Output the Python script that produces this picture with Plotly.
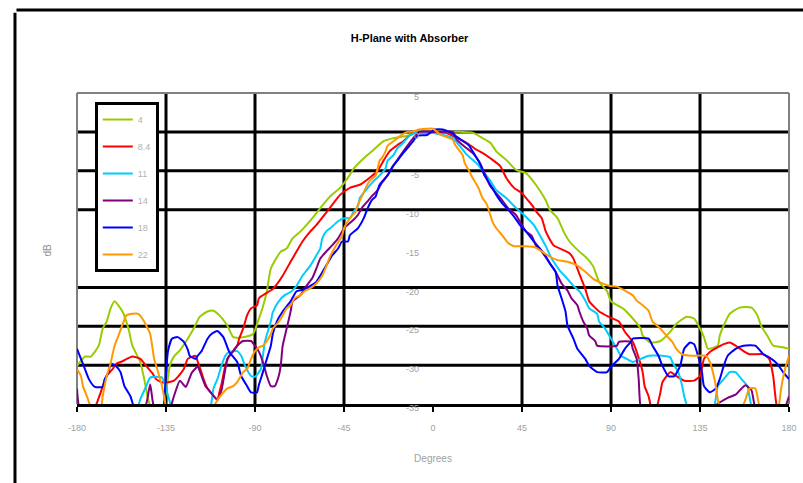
import plotly.graph_objects as go

# ---------------- data ----------------
x_tick_vals = [-180, -135, -90, -45, 0, 45, 90, 135, 180]
x_tick_text = ["-180", "-135", "-90", "-45", "0", "45", "90", "135", "180"]
y_tick_vals = [5, 0, -5, -10, -15, -20, -25, -30, -35]
y_tick_text = ["5", "0", "-5", "-10", "-15", "-20", "-25", "-30", "-35"]
x_grid = [-135, -90, -45, 45, 90, 135]
y_grid = [0, -5, -10, -20, -25, -30]

series_names = ["4", "8.4", "11", "14", "18", "22"]

ang_4 = [-180, -176, -173, -169, -167, -165, -163, -161, -157, -154, -152, -148, -146, -144, -141, -137,
         -133, -131, -128, -124, -121, -118, -114, -111, -108, -104, -101, -96, -91, -88, -86, -84, -82,
         -77, -74, -71, -67, -64, -61, -57, -52, -47, -43, -40, -35, -30, -25, -20, -13, -8, 0, 5, 10, 15,
         20, 25, 29, 32, 37, 42, 47, 52, 57, 59, 63, 66, 69, 74, 78, 81, 84, 88, 90, 96, 101, 105, 106,
         110, 115, 120, 123, 128, 132, 135, 137, 139, 144, 145, 147, 150, 155, 161, 164, 166, 169, 172,
         177, 180]
db_4 = [-30.1, -28.9, -28.9, -27.5, -25.3, -24.4, -22.7, -21.8, -23.1, -25.3, -27.5, -29.6, -31.8, -34.4,
        -36.5, -36.0, -30.0, -28.9, -28.1, -26.6, -25.3, -23.8, -23.1, -23.0, -23.6, -24.9, -26.4, -26.4,
        -26.0, -24.0, -22.5, -20.5, -17.6, -15.4, -15.0, -13.7, -12.8, -12.0, -11.1, -9.8, -8.3, -7.2,
        -5.9, -4.7, -3.4, -2.3, -1.2, -0.8, -0.5, -0.1, 0.0, 0.0, 0.0, 0.0, -0.1, -0.8, -1.4, -2.5, -3.6,
        -4.9, -5.3, -6.8, -8.8, -10.0, -11.1, -12.8, -14.1, -15.4, -16.3, -17.3, -19.3, -20.5, -21.8,
        -22.7, -24.0, -25.3, -26.2, -27.1, -26.9, -25.7, -24.7, -23.8, -24.0, -25.3, -26.4, -27.9, -27.5,
        -26.2, -24.9, -23.4, -22.6, -22.6, -23.6, -25.0, -26.2, -27.5, -27.7, -27.9]

ang_84 = [-180, -172, -168, -166, -165, -162, -160, -157, -152, -148, -145, -142, -140, -137, -134, -131,
          -129, -126, -124, -120, -119, -117, -116, -114, -109, -108, -107, -105, -103, -99, -98, -96, -94,
          -92, -89, -88, -84, -81, -79, -76, -72, -69, -66, -62, -59, -55, -51, -47, -42, -37, -32, -28,
          -25, -22, -18, -15, -12, -8, 0, 5, 9, 14, 17, 22, 25, 29, 34, 37, 41, 45, 47, 50, 52, 55, 57, 61,
          66, 69, 71, 73, 75, 77, 79, 84, 89, 94, 97, 101, 103, 106, 107, 109, 111, 113, 115, 116, 120,
          123, 127, 132, 135, 137, 140, 144, 147, 150, 153, 157, 160, 167, 170, 172, 174, 180]
db_84 = [-37.0, -36.0, -33.5, -32.0, -31.4, -30.5, -29.8, -29.5, -28.9, -29.2, -30.1, -31.0, -31.8, -32.2,
         -32.2, -32.0, -31.5, -30.5, -29.2, -28.8, -29.5, -31.0, -31.8, -33.0, -34.4, -33.5, -32.5, -30.1,
         -28.8, -27.5, -26.6, -25.3, -23.6, -22.7, -22.3, -21.4, -20.7, -20.2, -19.6, -18.5, -16.7, -15.4,
         -14.1, -12.8, -12.0, -10.7, -9.4, -8.1, -7.2, -6.8, -5.9, -5.0, -3.7, -2.5, -1.7, -1.2, -0.5, 0.0,
         0.0, 0.0, -0.4, -1.0, -1.4, -2.3, -2.7, -3.4, -4.4, -5.9, -7.2, -7.9, -8.5, -9.4, -10.2, -11.1,
         -12.8, -14.6, -15.2, -15.6, -16.3, -17.6, -18.9, -20.2, -21.8, -23.1, -23.8, -24.4, -25.7, -27.0,
         -28.3, -30.9, -32.7, -34.0, -36.0, -35.5, -33.5, -32.2, -30.9, -31.4, -32.0, -32.0, -31.4, -29.2,
         -28.3, -27.7, -27.3, -27.1, -27.5, -28.2, -28.6, -28.6, -29.2, -31.4, -35.5, -38.0]

ang_11 = [-180, -178, -155, -150, -148, -145, -143, -140, -137, -135, -132, -128, -114, -111, -109, -107,
          -105, -103, -99, -97, -95, -92, -90, -87, -86, -85, -82, -81, -78, -75, -72, -69, -66, -62, -59,
          -57, -56, -54, -52, -48, -45, -42, -40, -38, -37, -33, -30, -27, -24, -23, -20, -18, -15, -12,
          -8, -3, 5, 10, 17, 23, 26, 29, 32, 37, 42, 46, 51, 54, 57, 60, 64, 68, 71, 74, 77, 79, 83, 84,
          87, 90, 93, 95, 98, 101, 105, 109, 116, 120, 121, 124, 126, 127, 129, 135, 142, 144, 147, 150,
          153, 156, 159, 160, 162, 180]
db_11 = [-34.6, -37.0, -37.0, -36.0, -34.4, -32.7, -31.6, -31.5, -31.6, -33.0, -35.5, -37.0, -37.0, -33.0,
         -31.8, -30.1, -28.8, -28.3, -28.2, -28.8, -30.1, -31.4, -31.5, -30.5, -28.8, -27.0, -24.4, -23.2,
         -21.8, -21.0, -20.6, -19.8, -18.5, -17.2, -15.9, -15.0, -13.7, -12.8, -12.4, -11.5, -11.1, -11.1,
         -10.2, -9.6, -8.5, -7.2, -6.3, -5.6, -4.7, -3.7, -3.0, -2.1, -1.4, -0.5, 0.0, 0.0, -0.4, -0.8,
         -2.9, -4.3, -5.3, -6.3, -7.5, -8.5, -9.8, -10.7, -12.0, -13.3, -14.7, -16.3, -17.8, -18.9, -19.8,
         -20.5, -21.7, -22.7, -23.4, -24.4, -25.3, -26.6, -27.9, -28.8, -29.2, -29.6, -29.2, -28.8, -28.8,
         -29.0, -29.6, -30.9, -32.7, -34.0, -35.5, -37.0, -35.5, -32.7, -31.8, -30.9, -30.9, -31.8, -32.7,
         -34.0, -36.0, -38.0]

ang_14 = [-180, -178, -150, -145, -143, -141, -135, -131, -128, -125, -122, -119, -117, -115, -113, -109,
          -107, -105, -104, -101, -99, -96, -92, -90, -88, -86, -84, -82, -80, -78, -77, -76, -74, -72, -71,
          -67, -64, -61, -59, -57, -54, -51, -48, -45, -41, -38, -36, -33, -31, -28, -26, -23, -21, -18,
          -15, -13, -10, -7, 0, 5, 10, 12, 15, 17, 20, 23, 25, 29, 32, 35, 38, 42, 45, 47, 50, 52, 55, 58,
          62, 65, 68, 70, 73, 74, 76, 78, 79, 82, 83, 93, 94, 100, 101, 103, 104, 105, 110, 140, 143, 149,
          153, 156, 158, 161, 163, 170, 177, 180]
db_14 = [-33.0, -36.0, -37.0, -35.0, -32.5, -35.5, -37.0, -34.0, -32.0, -32.8, -31.0, -30.2, -31.4, -32.7,
         -33.3, -34.5, -33.3, -30.5, -29.2, -28.2, -27.5, -26.9, -26.9, -27.5, -28.3, -29.6, -31.4, -32.7,
         -32.7, -31.4, -30.1, -27.5, -25.3, -23.1, -21.8, -21.0, -19.8, -18.8, -17.6, -16.3, -15.4, -14.6,
         -13.7, -12.4, -11.5, -10.7, -9.8, -8.9, -8.3, -7.5, -6.6, -5.6, -4.7, -3.6, -2.5, -1.8, -0.8, 0.0,
         0.0, 0.0, 0.0, -1.0, -1.7, -2.1, -2.7, -3.7, -4.7, -7.0, -7.9, -8.8, -9.8, -10.7, -12.0, -12.8,
         -13.4, -14.6, -15.4, -16.5, -18.0, -19.5, -20.4, -21.4, -22.3, -23.1, -24.4, -25.3, -26.2, -26.9,
         -27.5, -27.5, -27.0, -27.0, -27.9, -29.2, -31.8, -35.5, -38.0, -37.0, -35.2, -34.2, -33.8, -33.0,
         -32.6, -33.2, -35.5, -37.0, -36.0, -34.0]

ang_18 = [-180, -178, -176, -174, -171, -167, -166, -164, -163, -160, -158, -156, -153, -151, -145, -138,
          -136, -135, -134, -132, -129, -126, -124, -123, -120, -119, -117, -114, -112, -109, -106, -105,
          -103, -99, -97, -94, -92, -89, -88, -86, -84, -82, -81, -79, -76, -72, -69, -66, -62, -59, -57,
          -54, -51, -48, -46, -43, -42, -38, -35, -33, -31, -29, -27, -23, -20, -18, -15, -13, -10, -8, -3,
          1, 5, 9, 14, 18, 21, 24, 26, 30, 32, 35, 38, 41, 44, 47, 51, 54, 57, 59, 62, 63, 65, 67, 68, 71,
          73, 77, 79, 83, 88, 90, 94, 97, 100, 101, 109, 111, 114, 116, 119, 122, 125, 127, 130, 132, 134,
          136, 137, 140, 143, 145, 147, 149, 153, 157, 163, 167, 170, 174, 177, 180]
db_18 = [-27.9, -29.2, -30.5, -31.8, -32.8, -32.8, -31.8, -30.9, -29.8, -30.2, -30.9, -32.7, -34.0, -35.5,
         -37.0, -36.5, -35.0, -31.0, -28.2, -26.6, -26.4, -27.0, -28.0, -28.8, -29.2, -28.8, -28.2, -26.6,
         -26.0, -25.6, -26.4, -27.0, -28.3, -29.6, -31.4, -32.7, -33.5, -33.5, -32.5, -30.9, -29.2, -27.5,
         -26.0, -24.4, -23.1, -21.8, -20.5, -20.3, -19.8, -19.3, -18.5, -17.2, -15.9, -15.0, -14.1, -14.1,
         -13.3, -12.4, -11.1, -9.8, -8.8, -8.3, -6.8, -5.6, -4.3, -3.7, -2.7, -2.1, -1.2, -0.5, -0.4, 0.3,
         0.3, -0.1, -1.0, -1.7, -2.9, -4.2, -5.6, -7.2, -8.1, -9.2, -10.0, -10.9, -12.0, -12.8, -14.1,
         -15.0, -16.0, -16.9, -18.0, -19.8, -21.4, -23.1, -24.9, -26.6, -27.9, -29.2, -30.1, -30.9, -30.9,
         -30.2, -29.2, -27.9, -27.0, -26.6, -26.6, -27.5, -28.8, -30.1, -31.4, -31.4, -30.1, -27.9, -27.1,
         -27.3, -28.8, -30.9, -32.7, -33.5, -33.0, -31.8, -30.1, -28.8, -27.9, -27.5, -27.5, -28.6, -29.0,
         -29.8, -30.9, -31.8]

ang_22 = [-180, -178, -177, -175, -173, -168, -167, -165, -163, -162, -161, -159, -157, -155, -152, -149,
          -147, -145, -143, -142, -141, -139, -138, -137, -136, -133, -113, -111, -109, -106, -104, -101,
          -99, -96, -94, -92, -90, -88, -86, -84, -82, -81, -78, -76, -74, -72, -70, -67, -65, -62, -59,
          -56, -54, -52, -49, -46, -45, -42, -39, -38, -36, -34, -32, -29, -28, -27, -26, -24, -23, -20,
          -18, -16, -13, -11, -7, -3, 0, 4, 10, 11, 13, 15, 16, 18, 20, 23, 25, 27, 29, 30, 32, 35, 38, 41,
          47, 51, 54, 58, 63, 68, 73, 77, 81, 84, 89, 93, 97, 101, 103, 106, 109, 111, 115, 118, 121, 123,
          126, 131, 138, 140, 142, 143, 144, 146, 155, 158, 160, 163, 164, 166, 174, 176, 178, 180]
db_22 = [-30.5, -31.4, -32.7, -34.0, -35.3, -35.5, -34.0, -31.4, -29.8, -28.6, -27.5, -26.2, -24.8, -23.6,
         -23.4, -23.4, -24.0, -24.9, -26.0, -27.5, -29.2, -30.9, -31.8, -32.7, -34.0, -37.0, -37.0, -35.5,
         -34.5, -33.5, -33.0, -32.7, -32.2, -30.9, -30.5, -29.2, -28.2, -27.7, -27.5, -26.9, -26.0, -25.3,
         -24.4, -23.6, -22.7, -22.3, -21.4, -21.0, -20.5, -20.1, -19.5, -18.5, -17.3, -16.0, -14.6, -13.4,
         -12.4, -11.1, -10.2, -9.4, -8.3, -7.2, -6.3, -5.6, -4.7, -3.7, -3.4, -2.5, -1.8, -1.2, -0.8, -0.4,
         0.0, 0.0, 0.3, 0.4, 0.4, -0.4, -1.0, -1.6, -2.3, -3.0, -4.0, -4.9, -5.9, -7.2, -8.5, -9.2, -10.7,
         -11.5, -12.4, -13.3, -14.3, -14.7, -14.7, -14.8, -15.2, -15.9, -16.5, -16.7, -17.2, -18.0, -18.9,
         -19.3, -19.8, -19.9, -20.4, -21.0, -21.7, -22.3, -23.0, -24.4, -25.3, -26.2, -27.0, -27.9, -28.6,
         -28.8, -28.8, -29.6, -31.4, -32.7, -34.4, -36.0, -36.0, -34.4, -33.0, -33.0, -34.0, -36.0, -36.0,
         -33.0, -30.5, -28.8]

colors = ["#99cc00", "#ff0000", "#00ccff", "#800080", "#0000ff", "#ff9900"]
angles = [ang_4, ang_84, ang_11, ang_14, ang_18, ang_22]
values = [db_4, db_84, db_11, db_14, db_18, db_22]

# ---------------- figure ----------------
fig = go.Figure()
for name, ang, db, col in zip(series_names, angles, values, colors):
    assert len(ang) == len(db), name
    fig.add_trace(go.Scatter(
        x=ang, y=db, mode="lines", name=name, legendgroup=name,
        line=dict(color=col, width=2, shape="spline", smoothing=0.5),
        hoverinfo="skip",
    ))

shapes = []
for v in x_grid:
    shapes.append(dict(type="line", xref="x", yref="paper", x0=v, x1=v, y0=0, y1=1,
                       line=dict(color="black", width=3), layer="below"))
for v in y_grid:
    shapes.append(dict(type="line", xref="paper", yref="y", x0=0, x1=1, y0=v, y1=v,
                       line=dict(color="black", width=3), layer="below"))
# grey plot-area frame (left, top, right)
for (x0, y0, x1, y1) in [(0, 0, 0, 1), (0, 1, 1, 1), (1, 0, 1, 1)]:
    shapes.append(dict(type="line", xref="paper", yref="paper", x0=x0, y0=y0, x1=x1, y1=y1,
                       line=dict(color="#808080", width=2), layer="below"))
# outer chart frame (left and top edges visible)
shapes.append(dict(type="line", xref="paper", yref="paper", x0=-0.0871, x1=-0.0871, y0=-0.3, y1=1.258,
                   line=dict(color="black", width=3)))
shapes.append(dict(type="line", xref="paper", yref="paper", x0=-0.085, x1=1.05, y0=1.2669, y1=1.2669,
                   line=dict(color="black", width=3)))

fig.update_layout(
    width=803, height=483,
    margin=dict(l=77, r=14, t=93, b=79, autoexpand=False),
    paper_bgcolor="white", plot_bgcolor="white",
    font=dict(family="Liberation Sans, Arial, sans-serif", color="#a0a0a0", size=9),
    title=dict(text="<b>H-Plane with Absorber</b>", x=0.51, xanchor="center",
               y=1 - 38 / 483, yanchor="middle", font=dict(size=11, color="black")),
    showlegend=True,
    legend=dict(x=0.025, y=0.971, xanchor="left", yanchor="top", bgcolor="white",
                bordercolor="black", borderwidth=3, tracegroupgap=8,
                font=dict(size=9, color="#b0b0b0")),
    xaxis=dict(range=[-180, 180], tickmode="array", tickvals=x_tick_vals, ticktext=x_tick_text,
               automargin=False,
               showgrid=False, zeroline=False, showline=True, linecolor="black", linewidth=3,
               ticks="outside", ticklen=5, tickwidth=2, tickcolor="black",
               ticklabelstandoff=8, tickfont=dict(size=9, color="#a0a0a0"),
               title=dict(text="Degrees", font=dict(size=10, color="#a0a0a0"), standoff=24)),
    yaxis=dict(range=[-35, 5], tickmode="array", tickvals=y_tick_vals, ticktext=y_tick_text,
               anchor="free", position=0.5, side="left", automargin=False,
               showgrid=False, zeroline=False, showline=False, ticks="",
               ticklabelstandoff=14, ticklabelshift=4, tickfont=dict(size=9, color="#a0a0a0")),
    shapes=shapes,
    annotations=[dict(text="dB", xref="paper", yref="paper", x=-0.052, y=0.495, showarrow=False,
                      textangle=-90, font=dict(size=10, color="#909090"))],
)

fig.write_html("out.html", config={"displayModeBar": False},
               post_script="document.body.style.margin='0';")
